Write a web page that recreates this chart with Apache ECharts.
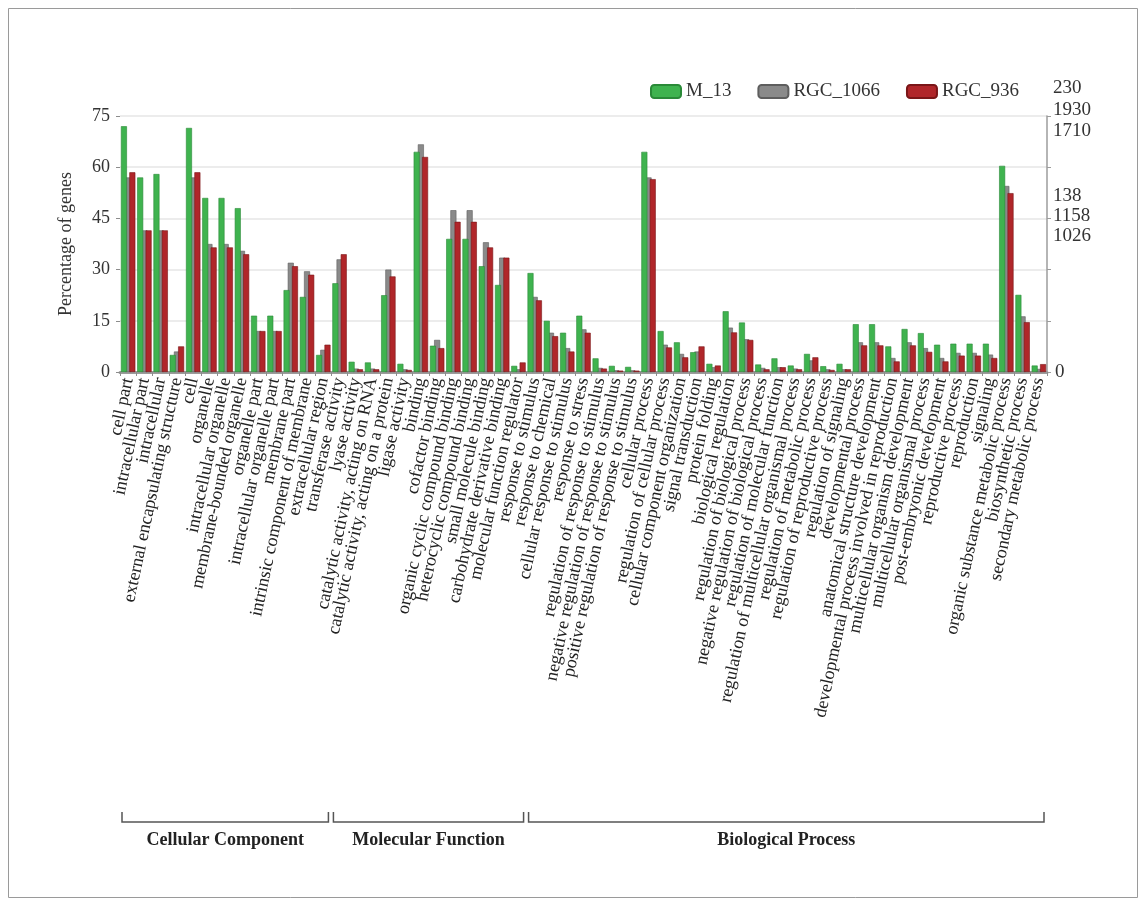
<!DOCTYPE html>
<html><head><meta charset="utf-8">
<script src="https://cdn.jsdelivr.net/npm/echarts@6/dist/echarts.min.js"></script>
<style>html,body{margin:0;padding:0;background:#fff}#c{width:1146px;height:907px}</style>
</head><body><div id="c"></div>
<script>
const categories = [
  'cell part','intracellular part','intracellular','external encapsulating structure','cell','organelle',
  'intracellular organelle','membrane-bounded organelle','organelle part','intracellular organelle part',
  'membrane part','intrinsic component of membrane','extracellular region',
  'transferase activity','lyase activity','catalytic activity, acting on RNA','catalytic activity, acting on a protein',
  'ligase activity','binding','cofactor binding','organic cyclic compound binding','heterocyclic compound binding',
  'small molecule binding','carbohydrate derivative binding','molecular function regulator',
  'response to stimulus','response to chemical','cellular response to stimulus','response to stress',
  'regulation of response to stimulus','negative regulation of response to stimulus','positive regulation of response to stimulus',
  'cellular process','regulation of cellular process','cellular component organization','signal transduction',
  'protein folding','biological regulation','regulation of biological process','negative regulation of biological process',
  'regulation of molecular function','regulation of multicellular organismal process','regulation of metabolic process',
  'regulation of reproductive process','regulation of signaling','developmental process','anatomical structure development',
  'developmental process involved in reproduction','multicellular organism development','multicellular organismal process',
  'post-embryonic development','reproductive process','reproduction','signaling','organic substance metabolic process',
  'biosynthetic process','secondary metabolic process'
];
const seriesNames = ['M_13','RGC_1066','RGC_936'];
const m13 = [72,57,58,5,71.5,51,51,48,16.5,16.5,24,22,5,
  26,3,2.8,22.5,2.4,64.5,7.7,39,39,31,25.5,1.8,
  29,15,11.5,16.5,4,1.8,1.5,64.5,12,8.7,5.8,2.4,17.8,14.5,2.2,4,1.9,5.3,1.7,2.4,
  14,14,7.5,12.6,11.4,8,8.3,8.3,8.3,60.4,22.6,1.9];
const rgc1066 = [57,41.5,41.5,6,57,37.5,37.5,35.5,12,12,32,29.5,6.5,
  33,1,1,30,0.8,66.7,9.4,47.4,47.4,38,33.5,0.8,
  22,11.5,7,12.5,1.2,0.5,0.5,57,8,5.3,6,1.4,13,9.6,1.2,1.4,1,3.4,0.8,0.8,
  8.7,8.7,4.1,8.7,7,4.1,5.6,5.6,5.1,54.5,16.3,0.9];
const rgc936 = [58.5,41.5,41.5,7.5,58.5,36.5,36.5,34.5,12,12,31,28.5,8,
  34.5,0.8,0.8,28,0.6,63,7,44,44,36.5,33.5,2.8,
  21,10.5,6,11.5,1,0.4,0.4,56.5,7.2,4.3,7.5,1.9,11.6,9.4,0.8,1.4,0.8,4.3,0.6,0.8,
  7.8,7.8,3.1,7.8,5.9,3.1,4.8,4.8,4.1,52.4,14.6,2.3];
const groupNames = ['Cellular Component','Molecular Function','Biological Process'];
const groupStart = [0,13,25];
const groupEnd = [12,24,56];
const rightTopLabels = ['230','1930','1710','138','1158','1026'];
const yAxisTitle = 'Percentage of genes';

const FONT = '"Liberation Serif","Times New Roman",serif';
const colors = ['#3fb34f','#8a8a8a','#b0262a'];
const borders = ['#2a8a38','#5e5e5e','#7a1618'];
const zOrder = [3,2,4];

const chart = echarts.init(document.getElementById('c'), null, {renderer:'canvas'});
const G = {left:120, right:99, top:116, bottom:535};

const option = {
  animation:false,
  backgroundColor:'#fff',
  textStyle:{fontFamily:FONT},
  legend:{
    data:seriesNames, left:645, top:77, itemWidth:30, itemHeight:13, itemGap:26,
    icon:'roundRect',
    textStyle:{fontFamily:FONT, fontSize:19, color:'#333'}
  },
  grid:G,
  xAxis:[{
    type:'category', data:categories, boundaryGap:true,
    axisLine:{show:true, lineStyle:{color:'#8c8c8c', width:1}},
    axisTick:{show:true, length:4, lineStyle:{color:'#8c8c8c'}},
    axisLabel:{interval:0, rotate:78, margin:6, fontFamily:FONT, fontSize:18, color:'#222'}
  },{
    type:'category', data:categories, position:'top', boundaryGap:true,
    axisLine:{show:true, lineStyle:{color:'#9c9c9c', width:3}},
    axisTick:{show:false}, axisLabel:{show:false}
  }],
  yAxis:[{
    type:'value', min:0, max:75, interval:15, position:'left',
    name:yAxisTitle, nameLocation:'middle', nameGap:45, nameRotate:90,
    nameTextStyle:{fontFamily:FONT, fontSize:18, color:'#333'},
    axisLine:{show:false},
    axisTick:{show:true, length:4, lineStyle:{color:'#8c8c8c'}},
    axisLabel:{fontFamily:FONT, fontSize:18, color:'#333', margin:10},
    splitLine:{show:true, lineStyle:{color:'#e6e6e6', width:1.5}}
  },{
    type:'value', min:0, max:75, interval:15, position:'right',
    axisLine:{show:true, lineStyle:{color:'#9c9c9c', width:1.5}},
    axisTick:{show:true, length:4, lineStyle:{color:'#9c9c9c'}},
    axisLabel:{fontFamily:FONT, fontSize:19, color:'#333', margin:8,
      formatter:v => v===0 ? '0' : ''},
    splitLine:{show:false}
  }],
  series:[m13, rgc1066, rgc936].map((d,i)=>({
    name:seriesNames[i], type:'bar', data:d, xAxisIndex:0, yAxisIndex:0,
    barWidth:6, barGap:'-30%', z:zOrder[i],
    itemStyle:{color:colors[i], borderColor:borders[i], borderWidth:0.6}
  }))
};
chart.setOption(option);

const n = categories.length;
const bw = (1146 - G.left - G.right) / n;
const graphics = [];
for (let g = 0; g < groupNames.length; g++) {
  const x0 = chart.convertToPixel({xAxisIndex:0}, groupStart[g]) - bw/2 + 2;
  const x1 = chart.convertToPixel({xAxisIndex:0}, groupEnd[g]) + bw/2 - 3;
  graphics.push({type:'polyline', shape:{points:[[x0,812],[x0,822],[x1,822],[x1,812]]},
    style:{stroke:'#555', lineWidth:1.5, fill:null}});
  graphics.push({type:'text', x:(x0+x1)/2, y:840, style:{text:groupNames[g], fontFamily:FONT,
    fontWeight:'bold', fontSize:18, fill:'#222', align:'center', verticalAlign:'middle'}});
}
const rY = [88,110,131,196,216,236];
rightTopLabels.forEach((t,i)=>{
  graphics.push({type:'text', x:1053, y:rY[i], style:{text:t, fontFamily:FONT, fontSize:19,
    fill:'#333', align:'left', verticalAlign:'middle'}});
});
graphics.push({type:'rect', shape:{x:8.5,y:8.5,width:1129,height:889}, style:{fill:null, stroke:'#9a9a9a', lineWidth:1}, silent:true});
chart.setOption({graphic:graphics});
</script></body></html>
